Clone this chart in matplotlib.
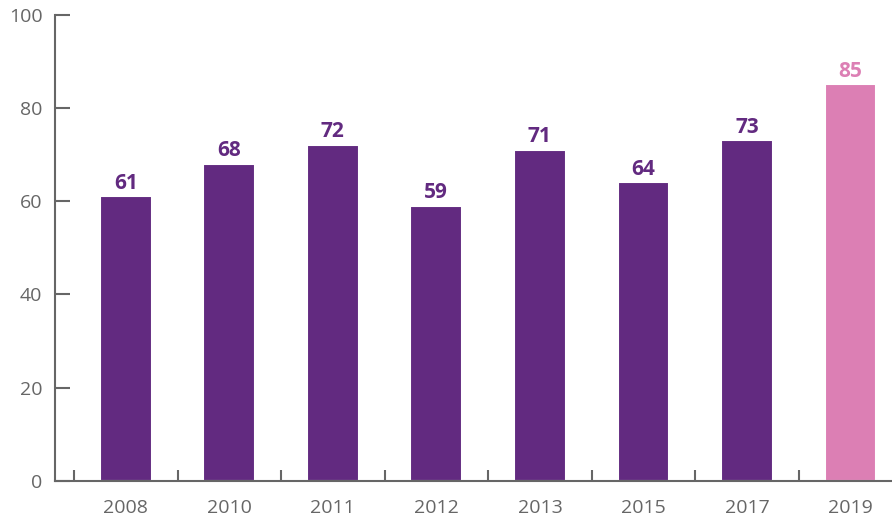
import matplotlib.pyplot as plt
from matplotlib.ticker import FixedLocator

years = ["2008", "2010", "2011", "2012", "2013", "2015", "2017", "2019"]
values = [61, 68, 72, 59, 71, 64, 73, 85]
colors = ["#622a80"] * 7 + ["#dc7fb4"]

plt.rcParams["font.family"] = ["Open Sans", "DejaVu Sans"]

W, H = 892, 518
fig = plt.figure(figsize=(W / 100, H / 100), dpi=100)
left, right, bottom, top = 55, 892, 481, 14.5
ax = fig.add_axes([left / W, 1 - bottom / H, (right - left) / W, (bottom - top) / H])

x = list(range(len(years)))
bars = ax.bar(x, values, width=0.5, color=colors, edgecolor="white", linewidth=1.5, zorder=2)

for xi, v, c in zip(x, values, colors):
    ax.annotate(str(v), (xi, v), xytext=(0, 2), textcoords="offset points",
                ha="center", va="bottom", fontsize=15, fontweight="bold", color=c)

ax.set_ylim(0, 100)
ax.set_xlim(-0.5 - 19 / 103.5, 7 + (892 - 850.5) / 103.5)

ax.set_yticks([0, 20, 40, 60, 80, 100])
ax.set_xticks(x)
ax.set_xticklabels(years)
ax.xaxis.set_minor_locator(FixedLocator([i - 0.5 for i in range(len(years))]))

grey = "#666666"
for s in ["top", "right"]:
    ax.spines[s].set_visible(False)
for s in ["left", "bottom"]:
    ax.spines[s].set_color(grey)
    ax.spines[s].set_linewidth(1.5)

ax.tick_params(axis="y", direction="in", length=11, width=1.5, color=grey,
               labelcolor=grey, labelsize=14, pad=9)
ax.tick_params(axis="x", which="major", length=0, labelcolor=grey, labelsize=14, pad=13)
ax.tick_params(axis="x", which="minor", direction="in", length=8, width=1.5, color=grey)

fig.savefig("out.png", dpi=100)
